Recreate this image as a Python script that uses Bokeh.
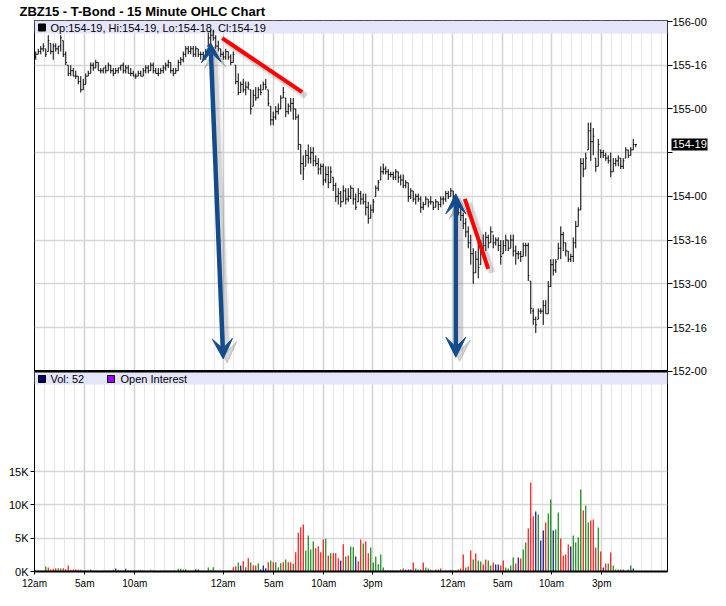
import numpy as np
from bokeh.plotting import figure
from bokeh.models import (Range1d, LinearAxis, FixedTicker, Grid, Label, Arrow,
                          VeeHead, Span, ColumnDataSource)
from bokeh.embed import file_html
from bokeh.resources import INLINE

# ---------------- data ----------------
title_text = "ZBZ15 - T-Bond - 15 Minute OHLC Chart"
price_base = 152  # OHLC lists are in 32nds above 152-00

high_32 = [117, 118, 119, 120, 118, 123, 120, 120, 120, 119, 123, 121, 117, 112, 112, 111, 110, 108, 108, 107,
           109, 110, 113, 113, 114, 113, 111, 111, 112, 113, 112, 111, 111, 111, 112, 113, 112, 112, 111, 110,
           109, 110, 110, 111, 112, 112, 113, 113, 111, 111, 111, 112, 113, 114, 113, 111, 111, 114, 115, 117,
           119, 119, 119, 119, 119,
           118, 117, 117, 118, 124, 125, 125, 123, 121, 118, 117, 118, 117, 116, 117, 112, 109, 106, 107, 106,
           106, 103, 103, 104, 104, 105, 106, 107, 103, 97, 95, 97, 98, 101, 104, 100, 98, 100, 100, 96,
           94, 83, 79, 81, 83, 82, 82, 79, 78, 76, 76, 75, 75, 75, 71, 69, 67, 66, 68, 67,
           67, 68, 67, 65, 67, 66, 65,
           65, 62, 61, 63, 68, 70, 75, 76, 75, 74, 73, 73, 74, 73, 72, 72, 70, 69, 67, 66,
           65, 65, 64, 62, 64, 63, 64, 62, 63, 62, 64, 64, 66, 66, 67, 66, 64, 62, 61, 58,
           56, 53, 50, 45, 44, 47, 48, 50, 51, 50, 53, 50, 49, 49, 48, 48, 50, 48, 50, 50,
           46, 44, 44, 47, 47, 47, 33, 23, 20, 23, 23, 26, 26, 33, 41, 41, 41, 47, 53, 51,
           47, 44, 43, 49, 55, 60, 78, 78, 80, 91, 91, 89, 78, 85, 81, 81, 80, 79, 80, 78,
           78, 79, 78, 78, 82, 81, 82, 85, 83]
low_32 = [114, 116, 116, 117, 115, 117, 116, 114, 117, 116, 117, 115, 112, 108, 108, 108, 107, 105, 102, 103,
          105, 108, 109, 110, 111, 110, 109, 109, 109, 110, 109, 108, 109, 109, 110, 109, 109, 109, 108, 108,
          107, 108, 108, 108, 109, 109, 110, 109, 109, 108, 109, 109, 110, 111, 109, 108, 109, 110, 112, 113,
          115, 116, 116, 115, 115,
          115, 114, 114, 114, 119, 120, 121, 118, 117, 115, 114, 114, 114, 112, 113, 105, 101, 102, 102, 101,
          103, 94, 97, 99, 100, 101, 103, 103, 97, 90, 90, 92, 94, 96, 100, 93, 94, 95, 92, 92,
          81, 72, 70, 75, 76, 76, 75, 75, 72, 72, 68, 69, 67, 69, 66, 62, 61, 60, 62, 61,
          62, 63, 61, 59, 62, 61, 61,
          57, 54, 56, 58, 64, 66, 70, 72, 72, 70, 71, 70, 70, 69, 68, 67, 67, 62, 63, 62,
          61, 62, 58, 59, 61, 60, 61, 59, 60, 59, 60, 61, 62, 63, 64, 62, 60, 57, 55, 52,
          49, 45, 39, 32, 36, 34, 39, 42, 44, 45, 47, 45, 46, 44, 39, 43, 44, 44, 45, 42,
          39, 41, 40, 42, 42, 33, 21, 17, 14, 19, 21, 17, 21, 21, 31, 35, 36, 41, 41, 44,
          42, 40, 40, 40, 45, 53, 59, 71, 74, 81, 77, 79, 73, 75, 78, 78, 77, 76, 71, 73,
          75, 75, 74, 74, 78, 78, 79, 81, 82]
open_32 = [115, 116, 117, 118, 118, 117, 120, 117, 119, 118, 119, 121, 116, 112, 109, 110, 108, 108, 106, 103,
           105, 108, 109, 112, 111, 113, 110, 110, 111, 110, 112, 110, 109, 110, 111, 112, 110, 111, 109, 109,
           108, 108, 109, 108, 110, 111, 110, 112, 110, 109, 109, 110, 111, 112, 113, 110, 109, 110, 113, 114,
           116, 118, 117, 118, 116,
           118, 116, 116, 115, 119, 122, 123, 122, 119, 118, 116, 115, 117, 115, 113, 112, 106, 102, 105, 103,
           104, 103, 97, 101, 100, 103, 103, 105, 103, 97, 92, 93, 95, 96, 100, 100, 95, 97, 98, 96,
           93, 83, 76, 75, 79, 78, 80, 77, 76, 74, 75, 70, 72, 69, 71, 68, 64, 65, 62, 66,
           63, 64, 67, 63, 62, 65, 63,
           62, 60, 56, 59, 64, 67, 70, 73, 74, 73, 72, 72, 71, 73, 71, 70, 68, 69, 64, 66,
           63, 64, 63, 60, 61, 63, 62, 62, 60, 62, 61, 63, 63, 65, 64, 66, 64, 62, 58, 57,
           54, 51, 47, 43, 36, 41, 39, 44, 46, 49, 47, 51, 47, 48, 46, 43, 46, 48, 45, 48,
           44, 43, 43, 42, 46, 46, 33, 22, 19, 19, 22, 22, 24, 21, 31, 39, 37, 41, 45, 50,
           47, 44, 41, 42, 47, 53, 59, 76, 74, 81, 88, 84, 78, 75, 81, 80, 79, 78, 77, 73,
           76, 77, 78, 75, 78, 81, 79, 81, 83]
close_32 = [116, 117, 118, 119, 116, 121, 117, 119, 118, 119, 122, 116, 113, 109, 110, 108, 108, 106, 103, 105,
            108, 109, 112, 111, 113, 110, 110, 111, 110, 112, 110, 109, 110, 111, 112, 110, 111, 109, 109, 108,
            108, 109, 108, 110, 111, 110, 112, 110, 109, 109, 110, 111, 112, 113, 110, 109, 110, 113, 114, 116,
            118, 117, 118, 116, 118,
            116, 116, 115, 117, 122, 123, 122, 119, 118, 116, 115, 117, 115, 113, 116, 106, 102, 105, 103, 104,
            105, 96, 101, 100, 103, 102, 105, 104, 98, 92, 93, 95, 96, 100, 102, 95, 97, 98, 96, 93,
            83, 76, 74, 79, 78, 80, 77, 76, 74, 75, 70, 72, 69, 73, 68, 64, 65, 62, 66, 63,
            64, 67, 63, 60, 65, 63, 62,
            60, 56, 59, 62, 67, 69, 73, 74, 73, 72, 72, 71, 73, 71, 70, 68, 69, 64, 66, 63,
            64, 63, 60, 61, 63, 62, 62, 60, 62, 61, 63, 63, 65, 64, 66, 64, 62, 58, 57, 54,
            51, 47, 43, 36, 41, 38, 44, 46, 49, 47, 51, 47, 48, 46, 42, 46, 48, 45, 48, 44,
            43, 43, 42, 46, 46, 35, 23, 19, 17, 22, 22, 24, 21, 31, 39, 37, 40, 45, 50, 47,
            44, 41, 42, 47, 53, 59, 76, 74, 78, 88, 84, 86, 75, 83, 80, 79, 78, 77, 73, 76,
            77, 78, 75, 77, 81, 79, 81, 83, 83]

volume = [150, 150, 150, 100, 750, 600, 300, 400, 500, 500, 450, 500, 350, 900, 250, 300, 300, 300, 250, 150,
          200, 150, 300, 200, 150, 150, 100, 150, 150, 150, 200, 250, 450, 250, 150, 150, 400, 200, 150, 150,
          150, 150, 200, 150, 100, 100, 250, 150, 150, 100, 150, 150, 150, 100, 150, 150, 100, 400, 400, 300,
          350, 150, 100, 150, 350,
          300, 150, 100, 100, 600, 250, 650, 150, 150, 150, 150, 100, 200, 150,
          650, 800, 1350, 900, 1550, 650, 2000, 1350, 950, 900, 1250, 300, 900, 500, 1400, 1650, 1400, 1400,
          650, 1250, 1400, 1800, 1400, 1400, 1150, 2900,
          5800, 6650, 7050, 3150, 5400, 3300, 4500, 3500, 3800, 2900, 4800,
          4900, 2400, 2750, 2750, 2750, 2000, 1650, 4100, 2250, 2400, 3750, 3650, 2250, 1550,
          4800, 4200, 4500, 2750, 3600, 1350, 2250, 1100, 2550, 600,
          150, 150, 150, 150, 150, 150, 300, 450, 250, 300,
          300, 1350, 450, 300, 300, 1350, 600, 450, 250, 150,
          300, 300, 450, 150, 150, 150, 250, 150, 150, 300,
          450, 2550, 600, 750, 3150, 1800, 2700, 1650, 1500, 1050,
          1800, 1650, 900, 1350, 1050, 1050, 900, 1650, 600, 450,
          900, 2100, 1200, 2100, 1950, 3300, 4350, 6450, 13350, 8300,
          9000, 8550, 4650, 6150, 7350, 8700, 10800, 6150, 6300, 8850,
          4950, 2400, 2550, 4050, 3750, 5400, 4350, 5100, 12300, 9150,
          9900, 7350, 7650, 7800, 3600, 6600, 3000, 600, 1200, 1200,
          2850, 900, 300, 300, 300, 300, 150, 300, 900, 450,
          52]
# u = up bar, d = down bar, n = unchanged
vol_dir = list("uuunuddddu" "uddduddddu" "uuuuddduuu" "udnuudnudd" "unnuuuuudu" "uuunddnuuu" "udddn"
               "nduduuuddddnun"
               "ddundududdunnnduduuududdud"
               "ddduuuudddd"
               "ududddnduduund"
               "dudduuuuuu" "nnnndddunn" "nduudduudd" "duduududud" "ddudduduud"
               "duudnndduu" "uudnduuddd" "nunnduunuu" "ddddnuuuud" "uudddudndu" "duuududuun"
               "n")

x_tick_pos = [-0.5, 19.62, 39.62, 74.98, 95.22, 115.22, 134.82, 166.82, 186.82, 206.3, 226.42]
x_tick_labels = ["12am", "5am", "10am", "12am", "5am", "10am", "3pm", "12am", "5am", "10am", "3pm"]
price_ticks = [152.0, 152.5, 153.0, 153.5, 154.0, 154.5, 155.0, 155.5, 156.0]
price_tick_labels = ["152-00", "152-16", "153-00", "153-16", "154-00", "", "155-00", "155-16", "156-00"]
vol_ticks = [0, 5000, 10000, 15000]
vol_tick_labels = ["0K", "5K", "10K", "15K"]
open_interest_label = "Open Interest"

n = len(close_32)
assert len(high_32) == n and len(low_32) == n and len(open_32) == n
assert len(volume) == n and len(vol_dir) == n

# ---------------- layout constants ----------------
FONT = "Liberation Sans"
PX_PER_BAR = 2.5
FRAME_L, FRAME_T = 34, 20          # page pixels of the frame's top-left corner
FW, FH = 633, 551
PX_PER_PT = 87.43
X0 = -0.5
X1 = X0 + FW / PX_PER_BAR
P_TOP = 156 + 1 / PX_PER_PT
P_BOT = P_TOP - FH / PX_PER_PT
V_END = 30000 * FH / 200
BAND = "#e4e4fb"
BLUE = "#134b8d"


def dx(px):
    return X0 + (px - FRAME_L) / PX_PER_BAR


def dy(py):
    return P_TOP - (py - FRAME_T) / PX_PER_PT


def fmt32(t):
    return f"{price_base + t // 32}-{t % 32:02d}"


p = figure(frame_width=FW, frame_height=FH, x_range=Range1d(X0, X1),
           y_range=Range1d(P_BOT, P_TOP), y_axis_location=None,
           output_backend="svg", toolbar_location=None,
           min_border_left=FRAME_L, min_border_right=46, min_border_top=FRAME_T, min_border_bottom=26,
           outline_line_color="black", outline_line_width=1,
           background_fill_color="white", border_fill_color="white")
p.grid.visible = False
p.extra_y_ranges = {"vol": Range1d(0, V_END)}

# chart title
p.title.text = title_text
p.title.align = "left"
p.title.offset = -15
p.title.standoff = 0
p.title.vertical_align = "top"
p.title.text_font = FONT
p.title.text_font_size = "13px"
p.title.text_font_style = "bold"
p.title.text_color = "black"

# right price axis
ya = LinearAxis(ticker=FixedTicker(ticks=price_ticks),
                major_label_overrides=dict(zip(price_ticks, price_tick_labels)),
                axis_line_color=None, major_tick_out=5, major_tick_in=0,
                minor_tick_line_color=None, major_label_standoff=0,
                major_label_text_font=FONT, major_label_text_font_size="11px",
                major_label_text_color="black")
p.add_layout(ya, "right")

# last-price marker: black box drawn as a wide minor tick, white label on top
last_price = price_base + close_32[-1] / 32
box_axis = LinearAxis(ticker=FixedTicker(ticks=[last_price], minor_ticks=[last_price]),
                      major_label_overrides={last_price: fmt32(close_32[-1])},
                      axis_line_color=None, major_tick_line_color=None,
                      major_tick_out=0, major_tick_in=0,
                      minor_tick_in=38, minor_tick_out=-2, minor_tick_line_width=12,
                      minor_tick_line_color="black",
                      major_label_standoff=-37,
                      major_label_text_font=FONT, major_label_text_font_size="11px",
                      major_label_text_color="white")
p.add_layout(box_axis, "right")

# bottom time axis
xa = p.xaxis[0]
xa.ticker = FixedTicker(ticks=x_tick_pos)
xa.major_label_overrides = dict(zip(x_tick_pos, x_tick_labels))
xa.axis_line_color = "black"
xa.axis_line_width = 2
xa.major_tick_out = 3
xa.major_tick_in = 0
xa.minor_tick_line_color = None
xa.major_label_standoff = 3
xa.major_label_text_font = FONT
xa.major_label_text_font_size = "10px"
xa.major_label_text_color = "black"

# left volume axis
va = LinearAxis(y_range_name="vol", ticker=FixedTicker(ticks=vol_ticks),
                major_label_overrides=dict(zip(vol_ticks, vol_tick_labels)),
                axis_line_color=None, major_tick_out=4, major_tick_in=0,
                minor_tick_line_color=None, major_label_standoff=2,
                major_label_text_font=FONT, major_label_text_font_size="11px",
                major_label_text_color="black")
p.add_layout(va, "left")

# grids
minor_x = []
bounds = x_tick_pos + [X1]
for a, b in zip(bounds[:-1], bounds[1:]):
    t = a + 4
    while t < b - 1:
        minor_x.append(t)
        t += 4
p.add_layout(Grid(dimension=0, ticker=FixedTicker(ticks=minor_x),
                  grid_line_color="#e6e6e6", grid_line_width=1))
p.add_layout(Grid(dimension=0, ticker=FixedTicker(ticks=x_tick_pos),
                  grid_line_color="#d2d2d2", grid_line_width=1.5))
p.add_layout(Grid(dimension=1, ticker=FixedTicker(ticks=price_ticks),
                  grid_line_color="#d6d6d6", grid_line_width=1.5))
p.add_layout(Grid(dimension=1, y_range_name="vol", ticker=FixedTicker(ticks=vol_ticks[1:]),
                  grid_line_color="#d6d6d6", grid_line_width=1.5))

# header bands
p.quad(left=X0, right=X1, top=P_TOP, bottom=dy(33), fill_color=BAND, line_color=None)
p.quad(left=X0, right=X1, top=dy(371), bottom=dy(384), fill_color=BAND, line_color=None)

# OHLC bars
idx = np.arange(n)
src = ColumnDataSource(dict(
    x=idx, xl=idx - 0.45, xr=idx + 0.45,
    hi=price_base + np.array(high_32) / 32, lo=price_base + np.array(low_32) / 32,
    op=price_base + np.array(open_32) / 32, cl=price_base + np.array(close_32) / 32))
p.segment(x0="x", y0="lo", x1="x", y1="hi", source=src, line_color="black", line_width=1)
p.segment(x0="xl", y0="op", x1="x", y1="op", source=src, line_color="black", line_width=1)
p.segment(x0="x", y0="cl", x1="xr", y1="cl", source=src, line_color="black", line_width=1)

# volume bars
dir_color = {"u": "#008000", "d": "#ff0000", "n": "#000080"}
vsrc = ColumnDataSource(dict(x=idx, v=volume, c=[dir_color[d] for d in vol_dir]))
p.vbar(x="x", top="v", bottom=0, width=0.45, fill_color="c", line_color=None,
       y_range_name="vol", source=vsrc)

# separator between panels
p.add_layout(Span(location=price_ticks[0], dimension="width", line_color="black", line_width=2.5))

# legend swatches in header bands
p.scatter([dx(41.5)], [dy(27)], marker="square", size=7, fill_color="black", line_color="black")
p.scatter([dx(41.5)], [dy(378.5)], marker="square", size=7, fill_color="#000066", line_color="black")
p.scatter([dx(110.5)], [dy(378.5)], marker="square", size=7, fill_color="#9900ff", line_color="black")


def add_label(text, px, py, size="11px"):
    p.add_layout(Label(x=dx(px), y=dy(py), text=text, text_font=FONT, text_font_size=size,
                       text_baseline="middle", text_color="black"))


header = (f"Op:{fmt32(open_32[-1])}, Hi:{fmt32(high_32[-1])}, "
          f"Lo:{fmt32(low_32[-1])}, Cl:{fmt32(close_32[-1])}")
add_label(header, 50, 27)
add_label(f"Vol: {volume[-1]}", 50, 378.5)
add_label(open_interest_label, 120, 378.5)

# annotation arrows and trend lines (page pixel coordinates)
arrows_px = [((210, 42), (222.7, 358.3)), ((455.3, 193.3), (455.3, 356.7))]
red_lines_px = [((221.7, 37.7), (301.7, 91.7)), ((464.3, 198.3), (487.7, 268.3))]
SH = 4  # shadow offset in px

for (a, b) in red_lines_px:
    for w, al in [(8, 0.10), (5, 0.18)]:
        p.add_layout(Arrow(start=None, end=None, x_start=dx(a[0] + SH), y_start=dy(a[1] + SH),
                           x_end=dx(b[0] + SH), y_end=dy(b[1] + SH),
                           line_color="#606060", line_alpha=al, line_width=w))
    p.add_layout(Arrow(start=None, end=None, x_start=dx(a[0]), y_start=dy(a[1]),
                       x_end=dx(b[0]), y_end=dy(b[1]), line_color="#ff0000", line_width=4))

for (a, b) in arrows_px:
    for w, al in [(8, 0.10), (5, 0.18)]:
        hs = dict(size=21, fill_color="#606060", fill_alpha=al, line_color="#606060", line_alpha=al)
        p.add_layout(Arrow(start=VeeHead(**hs), end=VeeHead(**hs),
                           x_start=dx(a[0] + SH), y_start=dy(a[1] + SH),
                           x_end=dx(b[0] + SH), y_end=dy(b[1] + SH),
                           line_color="#606060", line_alpha=al, line_width=w))
    hb = dict(size=20, fill_color=BLUE, line_color=BLUE)
    p.add_layout(Arrow(start=VeeHead(**hb), end=VeeHead(**hb),
                       x_start=dx(a[0]), y_start=dy(a[1]), x_end=dx(b[0]), y_end=dy(b[1]),
                       line_color=BLUE, line_width=4.5))

open("out.html", "w").write(file_html(p, INLINE, "ZBZ15 - T-Bond - 15 Minute OHLC Chart"))
